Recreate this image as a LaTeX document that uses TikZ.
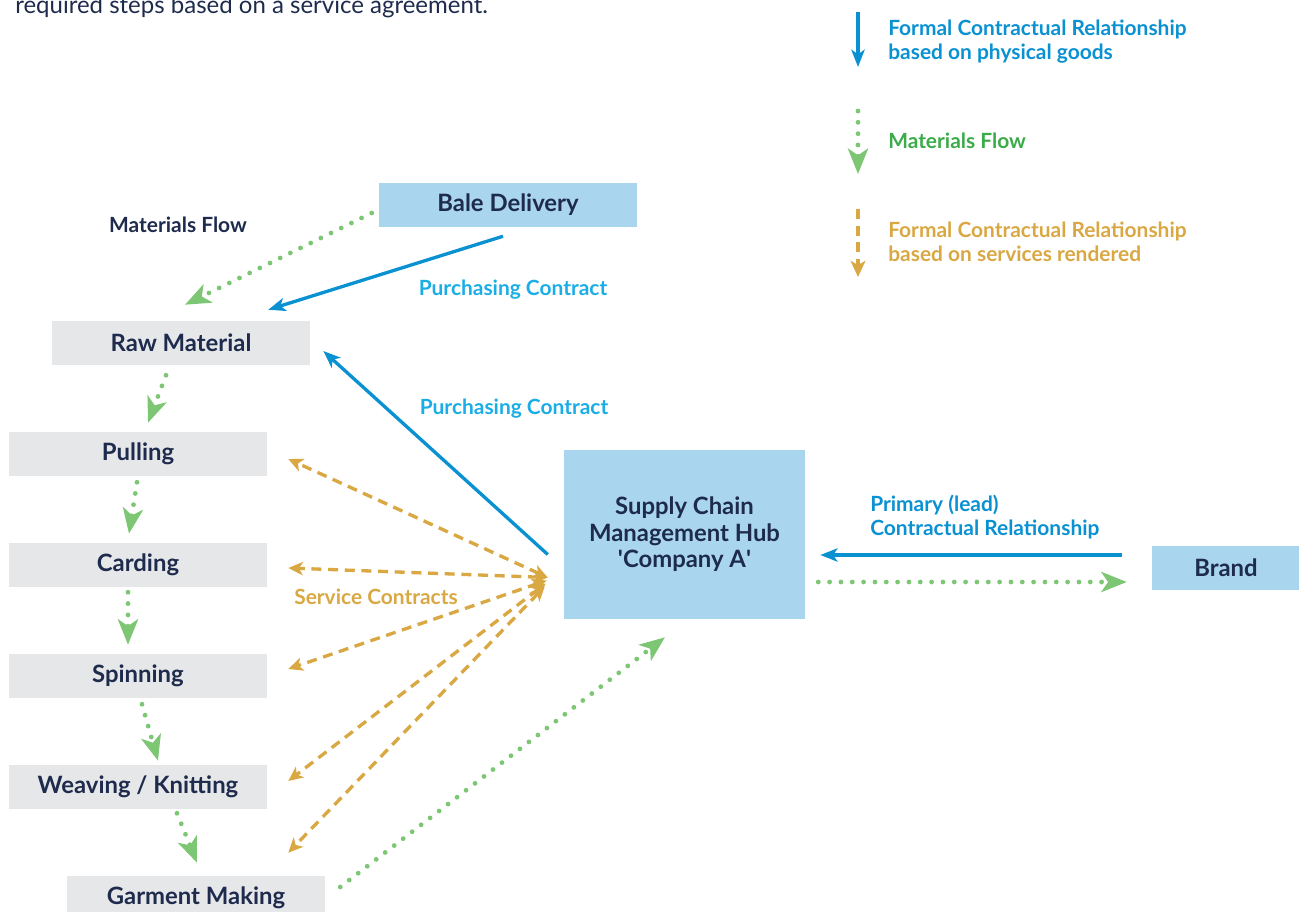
\documentclass[tikz,border=0pt]{standalone}
\usepackage{fontspec}
\setmainfont{Lato}
\usetikzlibrary{arrows.meta}

\definecolor{navy}{HTML}{1E2B4D}
\definecolor{hubblue}{HTML}{A9D5EF}
\definecolor{stepgray}{HTML}{E6E7E9}
\definecolor{contractblue}{HTML}{0A91D2}
\definecolor{labelblue}{HTML}{1AADE6}
\definecolor{flowgreen}{HTML}{7DC673}
\definecolor{textgreen}{HTML}{3CAB4A}
\definecolor{servicegold}{HTML}{D9A843}

\newcommand{\boxfont}{\fontsize{17.9}{19.9}\selectfont\bfseries}
\newcommand{\labelfont}{\fontsize{15.7}{18}\selectfont\bfseries}

\begin{document}
\begin{tikzpicture}[x=0.75pt, y=-0.75pt,
  stepbox/.style={fill=stepgray, minimum width=193.5pt, minimum height=33pt,
    inner sep=0pt, font=\boxfont, text=navy},
  hubbox/.style={stepbox, fill=hubblue},
  contract/.style={draw=contractblue, line width=2.5pt,
    -{Stealth[length=13pt, width=10pt, inset=3.5pt]}},
  flow/.style={draw=flowgreen, line width=3.6pt, line cap=round,
    dash pattern=on 0pt off 8.5pt,
    -{Stealth[length=19pt, width=15pt, inset=5pt]}},
  service/.style={draw=servicegold, line width=2.5pt, dash pattern=on 7.5pt off 5pt},
  servicetips/.style={service,
    {Stealth[length=11pt, width=10pt, inset=3pt]}-{Stealth[length=11pt, width=10pt, inset=3pt]}}]

  \useasboundingbox (0,0) rectangle (1299,912);
  \clip (0,0) rectangle (1299,912);

  % Intro line (cut off at the top)
  \node[anchor=base west, inner sep=0pt, text=navy, font=\fontsize{18}{21}\selectfont]
    (intro) at (15,14) {required steps based on a service agreement.};

  % Boxes
  \node[hubbox] (bale) at (508,205) {Bale Delivery};
  \node[stepbox] (rawmat) at (181,343) {Raw Material};
  \node[stepbox] (pulling) at (138,454) {Pulling};
  \node[stepbox] (carding) at (138,565) {Carding};
  \node[stepbox] (spinning) at (138,676) {Spinning};
  \node[stepbox] (weaving) at (138,787) {Weaving / Knitting};
  \node[stepbox] (garment) at (196,898) {Garment Making};
  \node[hubbox, minimum width=180.75pt, minimum height=126.75pt, align=center]
    (hub) at (684.5,534.5) {Supply Chain\\Management Hub\\\textquotesingle Company A\textquotesingle};
  \node[hubbox, minimum width=111pt] (brand) at (1226,567.5) {Brand};

  % Materials flow
  \draw[flow] ([shift={(-7,8)}]bale.west) -- ([shift={(4,-16)}]rawmat.north);
  \draw[flow] ([shift={(-15,10)}]rawmat.south) -- ([shift={(10,-9)}]pulling.north);
  \draw[flow] ([shift={(-1,6)}]pulling.south) -- ([shift={(-9,-9)}]carding.north);
  \draw[flow] ([shift={(-10,5)}]carding.south) -- ([shift={(-10,-9)}]spinning.north);
  \draw[flow] ([shift={(4,6)}]spinning.south) -- ([shift={(20,-4)}]weaving.north);
  \draw[flow] ([shift={(39,4)}]weaving.south) -- ([shift={(1,-13)}]garment.north);
  \draw[flow] ([shift={(15,-11)}]garment.east) -- ([shift={(-19.5,18)}]hub.south);
  \draw[flow] ([shift={(13,47.5)}]hub.east) -- ([shift={(-25,14.5)}]brand.west);

  % Purchasing contracts
  \draw[contract] ([shift={(-5,9)}]bale.south) -- ([shift={(-42,-11)}]rawmat.north east);
  \draw[contract] ([shift={(-16,20)}]hub.west) -- ([shift={(13,8)}]rawmat.east);
  \draw[contract] ([shift={(-30,-12.5)}]brand.west) -- ([shift={(15,20.5)}]hub.east);

  % Service contracts
  \draw[servicetips] ([shift={(-16,43)}]hub.west) -- ([shift={(21,5)}]pulling.east);
  \draw[servicetips] ([shift={(-16,43)}]hub.west) -- ([shift={(21,3)}]carding.east);
  \draw[servicetips] ([shift={(-17,46)}]hub.west) -- ([shift={(21,-7)}]spinning.east);
  \draw[servicetips] ([shift={(-18,49)}]hub.west) -- ([shift={(21,-6)}]weaving.east);
  \draw[servicetips] ([shift={(-19,52)}]hub.west) -- ([shift={(-37,-23)}]garment.north east);

  % Labels
  \node[font=\labelfont, text=navy] (lblflow) at (178,225) {Materials Flow};
  \node[font=\labelfont, text=labelblue] (lblbuy1) at (513,290) {Purchasing Contract};
  \node[font=\labelfont, text=labelblue] (lblbuy2) at (514,409) {Purchasing Contract};
  \node[font=\labelfont, text=servicegold] (lblservice) at (376,597) {Service Contracts};
  \node[font=\labelfont, text=contractblue, align=left, anchor=west, inner sep=0pt]
    (lbllead) at (870,517) {Primary (lead)\\Contractual Relationship};

  % Legend
  \coordinate (keyblueA) at (858,12);
  \coordinate (keyblueB) at (858,67);
  \coordinate (keygreenA) at (858,111);
  \coordinate (keygreenB) at (858,174);
  \coordinate (keygoldA) at (858,209);
  \coordinate (keygoldB) at (858,277);
  \draw[contract] (keyblueA) -- (keyblueB);
  \draw[flow] (keygreenA) -- (keygreenB);
  \draw[service, -{Stealth[length=12pt, width=11pt, inset=3pt]}] (keygoldA) -- (keygoldB);
  \node[font=\labelfont, text=contractblue, align=left, anchor=west, inner sep=0pt]
    (keyblue) at (888,42) {Formal Contractual Relationship\\based on physical goods};
  \node[font=\labelfont, text=textgreen, anchor=west, inner sep=0pt]
    (keygreen) at (888,141) {Materials Flow};
  \node[font=\labelfont, text=servicegold, align=left, anchor=west, inner sep=0pt]
    (keygold) at (888,242) {Formal Contractual Relationship\\based on services rendered};
\end{tikzpicture}
\end{document}
